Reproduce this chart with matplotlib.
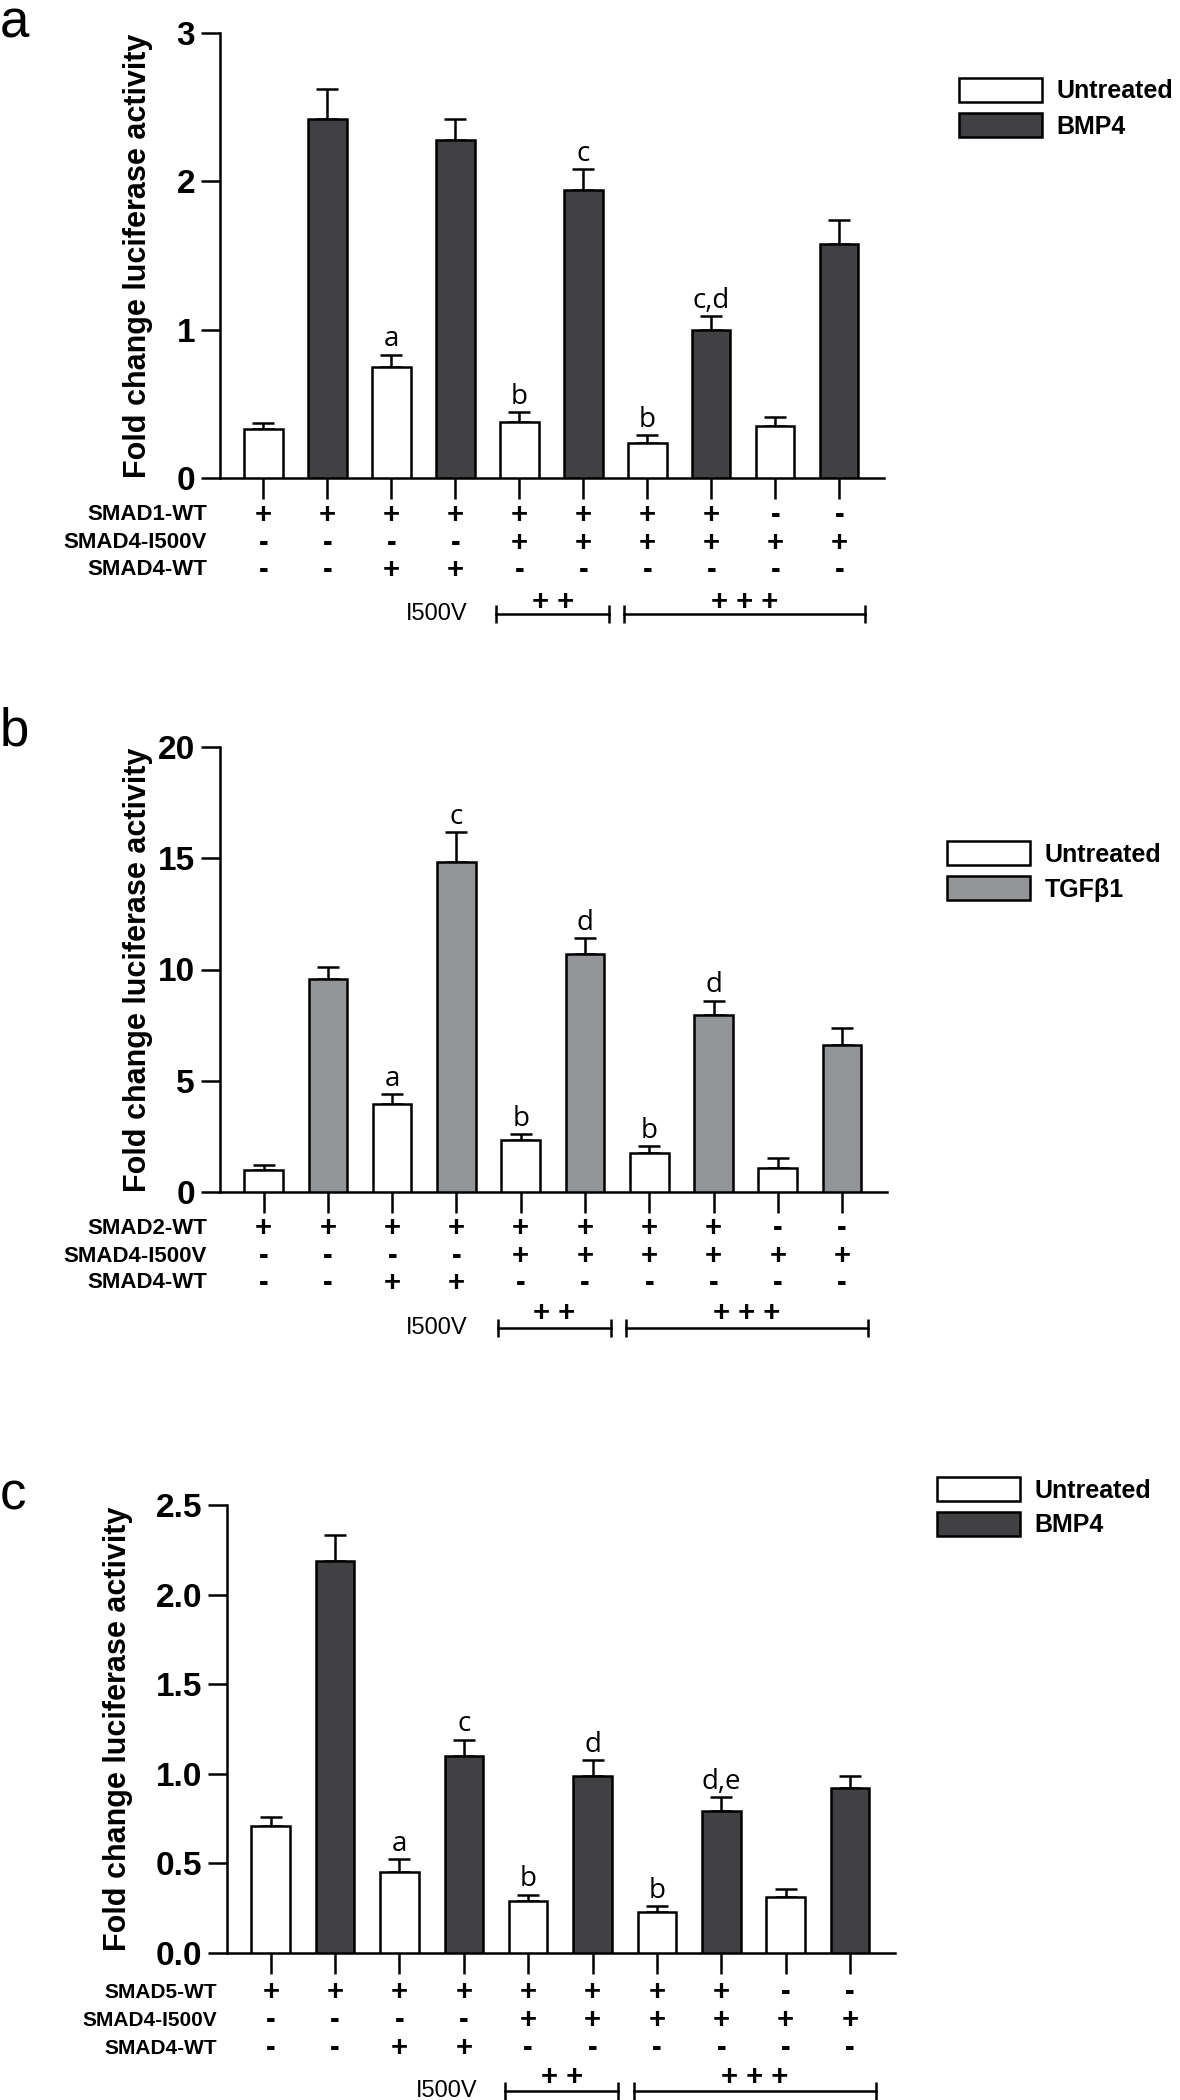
import numpy as np
import matplotlib
matplotlib.use('Agg')
import matplotlib.pyplot as plt
from matplotlib.patches import Patch
from matplotlib.transforms import blended_transform_factory

W, H = 1180, 2100   # output size in pixels (dpi 100)

# ---- data ----
# panel a: SMAD1 reporter, untreated vs BMP4
a_vals = [0.33, 2.42, 0.75, 2.28, 0.38, 1.94, 0.235, 1.00, 0.35, 1.58]
a_err = [0.04, 0.20, 0.08, 0.14, 0.065, 0.14, 0.055, 0.09, 0.06, 0.16]
a_letters = ['', '', 'a', '', 'b', 'c', 'b', 'c,d', '', '']
a_rows = ['SMAD1-WT', 'SMAD4-I500V', 'SMAD4-WT']

# panel b: SMAD2 reporter, untreated vs TGFb1
b_vals = [0.97, 9.56, 3.97, 14.83, 2.35, 10.68, 1.76, 7.96, 1.08, 6.60]
b_err = [0.23, 0.55, 0.42, 1.35, 0.25, 0.74, 0.30, 0.64, 0.44, 0.78]
b_letters = ['', '', 'a', 'c', 'b', 'd', 'b', 'd', '', '']
b_rows = ['SMAD2-WT', 'SMAD4-I500V', 'SMAD4-WT']

# panel c: SMAD5 reporter, untreated vs BMP4
c_vals = [0.71, 2.19, 0.45, 1.10, 0.29, 0.985, 0.23, 0.79, 0.31, 0.92]
c_err = [0.05, 0.14, 0.075, 0.09, 0.035, 0.09, 0.03, 0.08, 0.045, 0.065]
c_letters = ['', '', 'a', 'c', 'b', 'd', 'b', 'd,e', '', '']
c_rows = ['SMAD5-WT', 'SMAD4-I500V', 'SMAD4-WT']

# transfection scheme (same for all panels)
row_signs = [
    ['+', '+', '+', '+', '+', '+', '+', '+', '-', '-'],
    ['-', '-', '-', '-', '+', '+', '+', '+', '+', '+'],
    ['-', '-', '+', '+', '-', '-', '-', '-', '-', '-'],
]
dose_labels = ['+ +', '+ + +']
dose_groups = [(4, 5), (6, 9)]

DARK = '#414143'
GREY = '#939598'
LW = 1.8
ARIAL = ['Liberation Sans', 'DejaVu Sans']


def fy(px):
    return 1 - px / H


def draw_panel(fig, box, vals, errs, letters, row_names, ymax, yticks, ytlabels,
               treat_color, treat_name, rows_px, label_right, i500_right,
               legend_xy, tick_fs, row_fs, ylab_right):
    left, right, top, bottom = box
    ax = fig.add_axes([left / W, fy(bottom), (right - left) / W, (bottom - top) / H])
    x = np.arange(len(vals))
    colors = ['white' if i % 2 == 0 else treat_color for i in x]
    ax.bar(x, vals, width=0.6, color=colors, edgecolor='black', linewidth=LW, zorder=3)
    ax.errorbar(x, vals, yerr=[np.zeros(len(vals)), errs], fmt='none', ecolor='black',
                elinewidth=LW, capsize=8, capthick=LW, zorder=2)
    for i, lab in enumerate(letters):
        if lab:
            ax.annotate(lab, (i, vals[i] + errs[i]), xytext=(0, 1), textcoords='offset points',
                        ha='center', va='bottom', fontsize=20, family=['Open Sans', 'DejaVu Sans'])

    ax.set_xlim(-0.68, 9.7)
    ax.set_ylim(0, ymax)
    ax.set_yticks(yticks)
    ax.set_yticklabels(ytlabels, fontsize=tick_fs, fontweight='heavy', family=ARIAL)
    ax.set_xticks(x)
    ax.set_xticklabels([])
    ax.tick_params(axis='y', length=14, width=LW, pad=4)
    ax.tick_params(axis='x', length=15, width=LW)
    for s in ['top', 'right']:
        ax.spines[s].set_visible(False)
    for s in ['left', 'bottom']:
        ax.spines[s].set_linewidth(LW)

    ax.set_ylabel('Fold change luciferase activity', fontsize=22, fontweight='bold', family=ARIAL)
    ax.yaxis.set_label_coords((ylab_right - left) / (right - left), 0.5)

    # treatment table under the axis
    tr = blended_transform_factory(ax.transData, fig.transFigure)
    for r, name in enumerate(row_names):
        fig.text(label_right / W, fy(rows_px[r]), name, ha='right', va='center',
                 fontsize=row_fs, fontweight='bold', family=ARIAL)
        for i in x:
            ax.text(i, fy(rows_px[r]), row_signs[r][i], transform=tr, ha='center', va='center',
                    fontsize=21, fontweight='bold', family=ARIAL)

    # I500V dose brackets
    for (g0, g1), lab in zip(dose_groups, dose_labels):
        x0, x1 = g0 - 0.36, g1 + 0.4
        ax.plot([x0, x1], [fy(rows_px[4])] * 2, transform=tr, color='black', lw=1.8,
                marker='|', markersize=13, markeredgewidth=1.8, clip_on=False)
        ax.text((x0 + x1) / 2, fy(rows_px[3]), lab, transform=tr, ha='center', va='center',
                fontsize=21, fontweight='bold', family=ARIAL)
    fig.text(i500_right / W, fy(rows_px[4]), 'I500V', ha='right', va='center',
             fontsize=17, family=ARIAL)

    handles = [Patch(facecolor='white', edgecolor='black', linewidth=LW),
               Patch(facecolor=treat_color, edgecolor='black', linewidth=LW)]
    fig.legend(handles, ['Untreated', treat_name], loc='upper left',
               bbox_to_anchor=(legend_xy[0] / W, fy(legend_xy[1])), frameon=False,
               borderpad=0, borderaxespad=0, handlelength=3.3, handleheight=1.1,
               labelspacing=0.38, handletextpad=0.6,
               prop={'size': 18, 'weight': 'bold', 'family': ARIAL})
    return ax


fig = plt.figure(figsize=(W / 100, H / 100), dpi=100)

draw_panel(fig, (220, 884, 33, 478), a_vals, a_err, a_letters, a_rows, 3, [0, 1, 2, 3],
           ['0', '1', '2', '3'], DARK, 'BMP4', [515, 543, 570, 602, 614], 207, 468,
           (959, 78), 24, 16, 153)
draw_panel(fig, (220, 887, 747, 1192), b_vals, b_err, b_letters, b_rows, 20, [0, 5, 10, 15, 20],
           ['0', '5', '10', '15', '20'], GREY, 'TGFβ1', [1228, 1256, 1283, 1313, 1328], 207, 468,
           (947, 841), 24, 16, 153)
draw_panel(fig, (227, 895, 1505, 1953), c_vals, c_err, c_letters, c_rows, 2.5,
           [0, 0.5, 1.0, 1.5, 2.0, 2.5], ['0.0', '0.5', '1.0', '1.5', '2.0', '2.5'], DARK, 'BMP4',
           [1992, 2020, 2048, 2077, 2091], 217, 477, (937, 1477), 24, 15, 133)

# panel letters
for lab, ybase in [('a', 37), ('b', 745), ('c', 1510)]:
    fig.text(0, fy(ybase), lab, ha='left', va='baseline', fontsize=38, family=ARIAL)

fig.savefig('out.png', dpi=100)
